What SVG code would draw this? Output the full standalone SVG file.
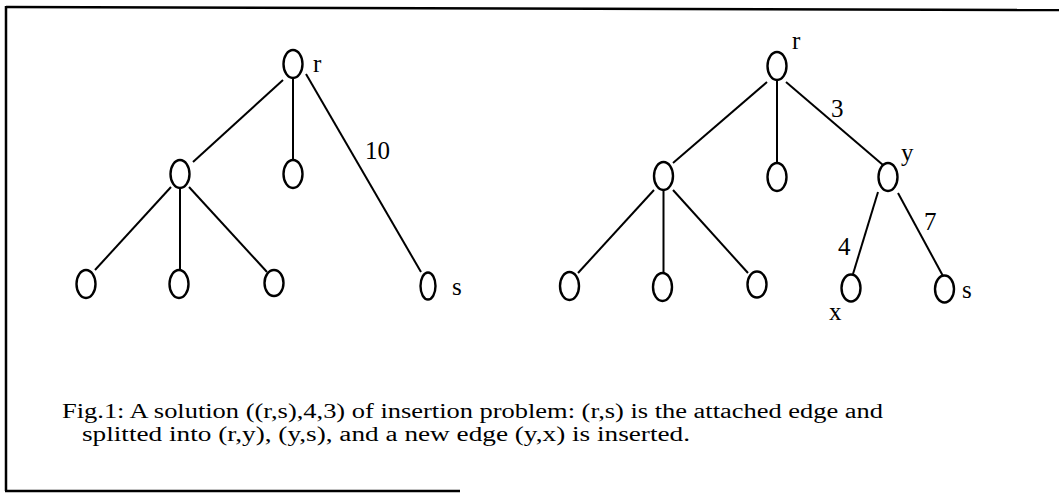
<svg xmlns="http://www.w3.org/2000/svg" width="1059" height="494" viewBox="0 0 1059 494">
<style>
  .n { fill: none; stroke: #000; stroke-width: 2.4; }
  .e { stroke: #000; stroke-width: 2; fill: none; }
  .b { stroke: #000; stroke-width: 2.5; fill: none; }
  .t { font-family: "Liberation Serif", "Times New Roman", serif; font-size: 25px; fill: #000; }
  .c { font-family: "Liberation Serif", "Times New Roman", serif; font-size: 20px; fill: #000; }
</style>
<rect width="1059" height="494" fill="#fff"/>
<g id="frame">
  <line class="b" x1="6" y1="7" x2="1059" y2="10"/>
  <line class="b" x1="6" y1="6" x2="6" y2="491"/>
  <line class="b" x1="5" y1="491" x2="460" y2="491"/>
</g>
<g id="connectors">
  <line class="e" x1="283" y1="80" x2="193" y2="162"/>
  <line class="e" x1="293" y1="78" x2="293" y2="160"/>
  <line class="e" x1="306" y1="74" x2="421" y2="272"/>
  <line class="e" x1="171" y1="187" x2="95" y2="270"/>
  <line class="e" x1="180" y1="188" x2="180" y2="270"/>
  <line class="e" x1="189" y1="187" x2="267" y2="272"/>
  <line class="e" x1="767" y1="82" x2="673" y2="163"/>
  <line class="e" x1="777" y1="80" x2="777" y2="163"/>
  <line class="e" x1="786" y1="82" x2="883" y2="165"/>
  <line class="e" x1="654" y1="190" x2="578" y2="273"/>
  <line class="e" x1="663.5" y1="190" x2="663.5" y2="273"/>
  <line class="e" x1="673" y1="190" x2="748" y2="273"/>
  <line class="e" x1="878" y1="192" x2="853" y2="274"/>
  <line class="e" x1="898" y1="193" x2="943" y2="276"/>
</g>
<g id="l-root"><ellipse class="n" cx="293" cy="64" rx="9.5" ry="14"/><text class="t" x="313" y="72">r</text></g>
<g id="l-a"><ellipse class="n" cx="180" cy="174" rx="9.5" ry="14"/></g>
<g id="l-b"><ellipse class="n" cx="293" cy="174" rx="9.5" ry="14"/></g>
<g id="l-leaf1"><ellipse class="n" cx="86" cy="284" rx="9.5" ry="14"/></g>
<g id="l-leaf2"><ellipse class="n" cx="179" cy="284" rx="9.5" ry="14"/></g>
<g id="l-leaf3"><ellipse class="n" cx="274" cy="283" rx="9.5" ry="13"/></g>
<g id="l-s"><ellipse class="n" cx="428" cy="286" rx="7.5" ry="13.5"/><text class="t" x="452" y="295">s</text></g>
<text class="t" x="365" y="159">10</text>
<g id="r-root"><ellipse class="n" cx="777" cy="66" rx="9.5" ry="14"/><text class="t" x="792" y="49">r</text></g>
<g id="r-a"><ellipse class="n" cx="663.5" cy="176" rx="9.5" ry="14"/></g>
<g id="r-b"><ellipse class="n" cx="777" cy="177" rx="9.5" ry="14"/></g>
<g id="r-y"><ellipse class="n" cx="888" cy="177" rx="9.5" ry="14"/><text class="t" x="901" y="161">y</text></g>
<g id="r-leaf1"><ellipse class="n" cx="569.5" cy="286" rx="9.5" ry="14"/></g>
<g id="r-leaf2"><ellipse class="n" cx="662.5" cy="287" rx="9.5" ry="14"/></g>
<g id="r-leaf3"><ellipse class="n" cx="757" cy="284.5" rx="9.5" ry="13"/></g>
<g id="r-x"><ellipse class="n" cx="851" cy="288" rx="9.5" ry="13.5"/><text class="t" x="829" y="320">x</text></g>
<g id="r-s"><ellipse class="n" cx="944.5" cy="289" rx="9.5" ry="13.5"/><text class="t" x="962" y="298">s</text></g>
<text class="t" x="831" y="117">3</text>
<text class="t" x="924" y="230">7</text>
<text class="t" x="838" y="255">4</text>
<g id="caption">
  <text class="c" x="62" y="418" textLength="821" lengthAdjust="spacingAndGlyphs">Fig.1: A solution ((r,s),4,3) of insertion problem: (r,s) is the attached edge and</text>
  <text class="c" x="82" y="441" textLength="608" lengthAdjust="spacingAndGlyphs">splitted into (r,y), (y,s), and a new edge (y,x) is inserted.</text>
</g>
</svg>
